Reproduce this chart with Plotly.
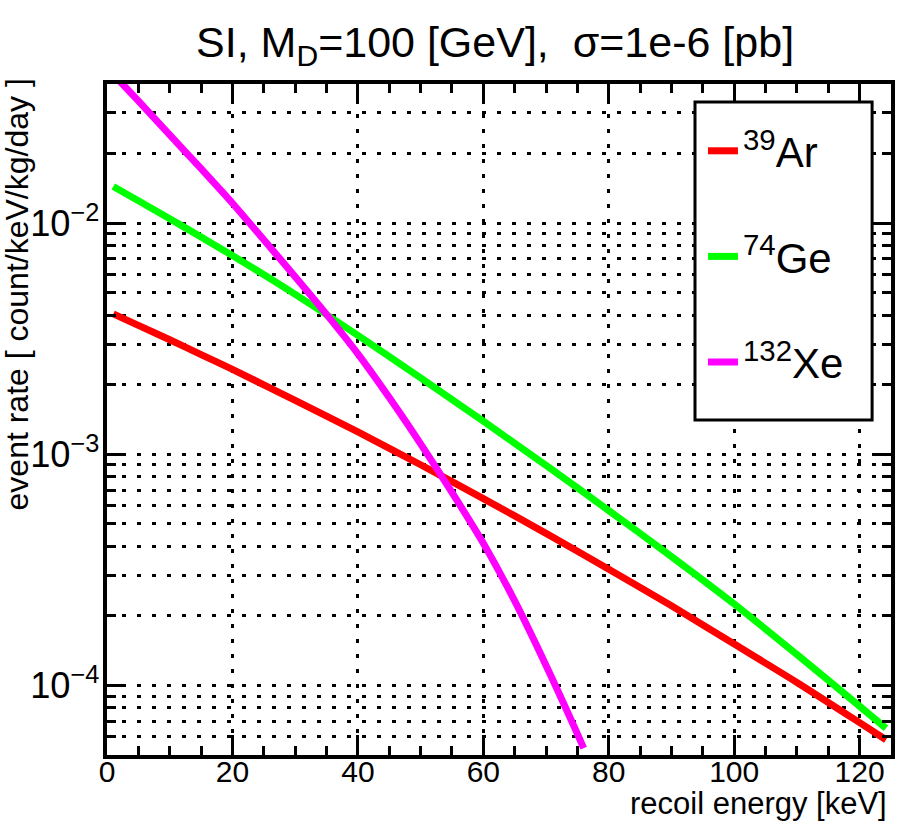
import plotly.graph_objects as go

# ---- data ----
e_ar = [1, 5, 10, 15, 20, 30, 40, 50, 60, 70, 80, 90, 100, 110, 120, 124.2]
r_ar = [4.05e-3, 3.61e-3, 3.13e-3, 2.70e-3, 2.33e-3, 1.71e-3, 1.249e-3, 9.01e-4,
        6.43e-4, 4.55e-4, 3.18e-4, 2.21e-4, 1.51e-4, 1.03e-4, 6.90e-5, 5.82e-5]

e_ge = [1, 5, 10, 15, 20, 30, 40, 50, 60, 70, 80, 90, 100, 110, 120, 124.2]
r_ge = [1.44e-2, 1.25e-2, 1.045e-2, 8.71e-3, 7.24e-3, 4.92e-3, 3.27e-3, 2.14e-3,
        1.39e-3, 8.95e-4, 5.71e-4, 3.61e-4, 2.25e-4, 1.36e-4, 8.13e-5, 6.53e-5]

e_xe = [1, 5, 10, 15, 20, 25, 30, 35, 40, 45, 50, 55, 60, 65, 70, 75, 76]
r_xe = [4.40e-2, 3.38e-2, 2.41e-2, 1.72e-2, 1.22e-2, 8.47e-3, 5.86e-3, 4.03e-3, 2.72e-3,
        1.76e-3, 1.11e-3, 6.84e-4, 4.12e-4, 2.32e-4, 1.22e-4, 6.17e-5, 5.35e-5]

names = ["<sup>39</sup>Ar", "<sup>74</sup>Ge", "<sup>132</sup>Xe"]
colors = ["#ff0000", "#00ff00", "#ff00ff"]

x_ticks = [0, 20, 40, 60, 80, 100, 120]

FONT = "Liberation Sans, Arial, Helvetica"

fig = go.Figure()
for (xs, ys, nm, col, grp) in [(e_ar, r_ar, names[0], colors[0], "ar"),
                               (e_ge, r_ge, names[1], colors[1], "ge"),
                               (e_xe, r_xe, names[2], colors[2], "xe")]:
    fig.add_trace(go.Scatter(x=xs, y=ys, mode="lines", name=nm, legendgroup=grp,
                             line=dict(color=col, width=7, shape="spline", smoothing=0.8)))

grid = dict(gridcolor="black", gridwidth=3, griddash="4px,11px")

fig.update_layout(
    width=897, height=825,
    margin=dict(l=107, r=2, t=84, b=70),
    paper_bgcolor="white", plot_bgcolor="white",
    font=dict(family=FONT, color="black"),
    title=dict(text="SI, M<sub>D</sub>=100 [GeV],\u00a0\u00a0σ=1e-6 [pb]",
               x=0.495, xref="paper", xanchor="center",
               y=1 - 42 / 825, yref="container", yanchor="middle",
               font=dict(family=FONT, size=43, color="black")),
    xaxis=dict(range=[0, 125], tickvals=x_ticks, ticks="inside", ticklen=20, tickwidth=2.5,
               tickcolor="black", showline=True, linewidth=3.5, linecolor="black", mirror="ticks",
               showgrid=True, zeroline=False, tickfont=dict(size=30, family=FONT),
               ticklabelstandoff=-13,
               minor=dict(dtick=5, ticks="inside", ticklen=9, tickwidth=2.5, tickcolor="black",
                          showgrid=False),
               **grid),
    yaxis=dict(type="log", range=[-4.30103, -1.39794], dtick=1, exponentformat="power",
               ticks="inside", ticklen=18, tickwidth=2.5, tickcolor="black",
               showline=True, linewidth=3.5, linecolor="black", mirror="ticks",
               showgrid=True, zeroline=False, tickfont=dict(size=29, family=FONT),
               ticklabelstandoff=-2,
               minor=dict(dtick="D1", ticks="inside", ticklen=9, tickwidth=2.5, tickcolor="black",
                          showgrid=True, **grid),
               **grid),
    legend=dict(x=(706 - 107) / 788, y=1 - (117 - 84) / 671, xanchor="left", yanchor="top",
                xref="paper", yref="paper", bgcolor="rgba(0,0,0,0)", borderwidth=0,
                font=dict(family=FONT, size=42, color="black"), tracegroupgap=48,
                itemwidth=30, traceorder="grouped"),
    showlegend=True,
)

# legend frame (white box with black border)
fig.add_shape(type="rect", xref="paper", yref="paper",
              x0=(698 - 107) / 788, x1=(876 - 107) / 788,
              y0=1 - (420 - 84) / 671, y1=1 - (102 - 84) / 671,
              line=dict(color="black", width=3), fillcolor="white", layer="above")

fig.add_annotation(text="recoil energy [keV]", xref="paper", yref="paper",
                   x=1 - 2 / 788, y=-(823 - 755) / 671, xanchor="right", yanchor="bottom",
                   showarrow=False, font=dict(family=FONT, size=31, color="black"))
fig.add_annotation(text="event rate [ count/keV/kg/day ]", xref="paper", yref="paper",
                   x=-(107 - 17) / 788, y=1 + 8 / 671, xanchor="center", yanchor="top",
                   textangle=-90, showarrow=False,
                   font=dict(family=FONT, size=32, color="black"))

fig.write_html("out.html")
